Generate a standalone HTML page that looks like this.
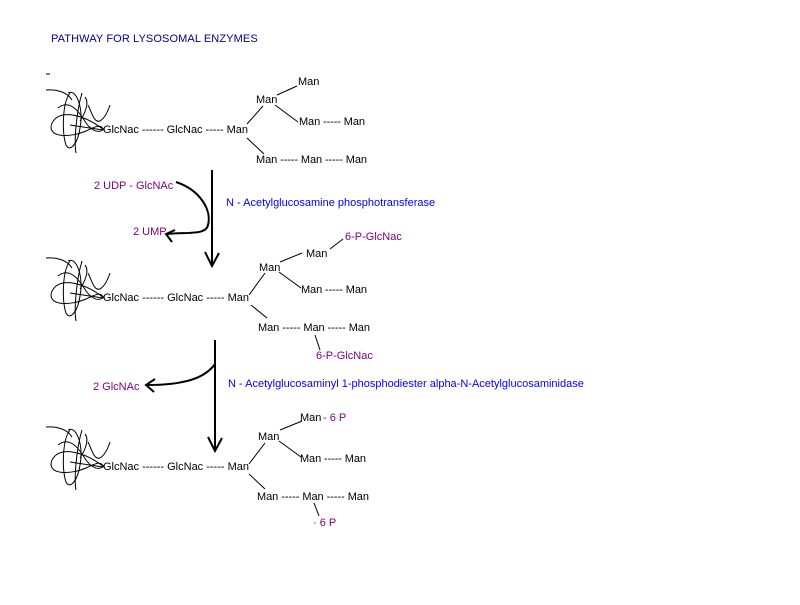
<!DOCTYPE html>
<html><head><style>
body{margin:0;background:#fff;width:800px;height:600px;overflow:hidden}
svg text{font-family:"Liberation Sans",Arial,sans-serif;font-size:11px}
.k{fill:#000}.p{fill:#800080}.b{fill:#0000ff}
</style></head><body>
<svg width="800" height="600" viewBox="0 0 800 600" xmlns="http://www.w3.org/2000/svg">
<defs>
<g id="sq" fill="none" stroke="#000" stroke-width="1">
<path d="M46,-43 C58,-44 68,-40 72,-33"/>
<path d="M70,-40 C62,-30 62,0 66,12 C70,20 78,10 80,-5 C84,-25 76,-45 68,-40"/>
<path d="M82,-40 C76,-20 74,10 76,20"/>
<path d="M104,-3 C85,-18 60,-25 52,-10 C46,5 70,5 86,-2 C95,-6 100,-10 104,-3"/>
<path d="M58,-25 C70,-35 80,-20 86,-10 C92,-2 98,0 103,-3"/>
<path d="M88,-28 C92,-20 94,-10 100,-12 C105,-15 108,-22 110,-28"/>
<path d="M85,-36 C90,-30 84,-18 80,-12"/>
<path d="M70,-8 L103,-3"/>
</g>
</defs>
<text x="51" y="42" style="fill:#00008b;font-size:11px;letter-spacing:0.3px" textLength="207">PATHWAY  FOR  LYSOSOMAL  ENZYMES</text>
<line x1="46" y1="74" x2="50" y2="74" stroke="#000"/>

<!-- Block 1 -->
<use href="#sq" transform="translate(0,133)"/>
<g stroke="#000" stroke-width="1">
<line x1="277" y1="95" x2="297" y2="86"/>
<line x1="275" y1="105" x2="298" y2="122"/>
<line x1="247" y1="124" x2="263" y2="106"/>
<line x1="247" y1="138" x2="264" y2="154"/>
</g>
<text class="k" x="103" y="133" textLength="145">GlcNac ------ GlcNac ----- Man</text>
<text class="k" x="298" y="85">Man</text>
<text class="k" x="256" y="103">Man</text>
<text class="k" x="299" y="125" textLength="66">Man ----- Man</text>
<text class="k" x="256" y="163" textLength="111">Man ----- Man ----- Man</text>

<!-- arrow 1 -->
<g stroke="#000" stroke-width="2" fill="none">
<line x1="212" y1="170" x2="212" y2="266"/>
<path d="M205,252 L212,266 L219,253"/>
<path d="M176,182 C200,190 212,210 208,225 C206,235 190,232 166,234"/>
<path d="M175,230 L166,234 L172,242"/>
</g>
<text class="p" x="94" y="189">2 UDP - GlcNAc</text>
<text class="p" x="133" y="235">2 UMP</text>
<text class="b" x="226" y="206">N - Acetylglucosamine  phosphotransferase</text>

<!-- Block 2 -->
<use href="#sq" transform="translate(0,301)"/>
<g stroke="#000" stroke-width="1">
<line x1="280" y1="262" x2="302" y2="253"/>
<line x1="330" y1="249" x2="343" y2="239"/>
<line x1="279" y1="272" x2="301" y2="288"/>
<line x1="249" y1="295" x2="265" y2="273"/>
<line x1="251" y1="305" x2="267" y2="318"/>
<line x1="315" y1="335" x2="320" y2="350"/>
</g>
<text class="k" x="103" y="301" textLength="146">GlcNac ------ GlcNac ----- Man</text>
<text class="k" x="306" y="257">Man</text>
<text class="p" x="345" y="240">6-P-GlcNac</text>
<text class="k" x="259" y="271">Man</text>
<text class="k" x="301" y="293" textLength="66">Man ----- Man</text>
<text class="k" x="258" y="331" textLength="112">Man ----- Man ----- Man</text>
<text class="p" x="316" y="359">6-P-GlcNac</text>

<!-- arrow 2 -->
<g stroke="#000" stroke-width="2" fill="none">
<line x1="215" y1="340" x2="215" y2="451"/>
<path d="M208,437 L215,451 L222,438"/>
<path d="M215,364 C205,378 185,385 147,385"/>
<path d="M155,379 L146,385 L154,392"/>
</g>
<text class="p" x="93" y="390">2 GlcNAc</text>
<text class="b" x="228" y="387">N - Acetylglucosaminyl 1-phosphodiester alpha-N-Acetylglucosaminidase</text>

<!-- Block 3 -->
<use href="#sq" transform="translate(0,470)"/>
<g stroke="#000" stroke-width="1">
<line x1="280" y1="430" x2="302" y2="421"/>
<line x1="279" y1="441" x2="301" y2="457"/>
<line x1="249" y1="464" x2="265" y2="443"/>
<line x1="249" y1="474" x2="265" y2="489"/>
<line x1="314" y1="503" x2="319" y2="516"/>
</g>
<text class="k" x="103" y="470" textLength="146">GlcNac ------ GlcNac ----- Man</text>
<text class="k" x="300" y="421">Man</text><text class="p" x="323" y="421">- 6 P</text>
<text class="k" x="258" y="440">Man</text>
<text class="k" x="300" y="462" textLength="66">Man ----- Man</text>
<text class="k" x="257" y="500" textLength="112">Man ----- Man ----- Man</text>
<text class="p" x="313" y="526">· 6 P</text>
</svg>
</body></html>
